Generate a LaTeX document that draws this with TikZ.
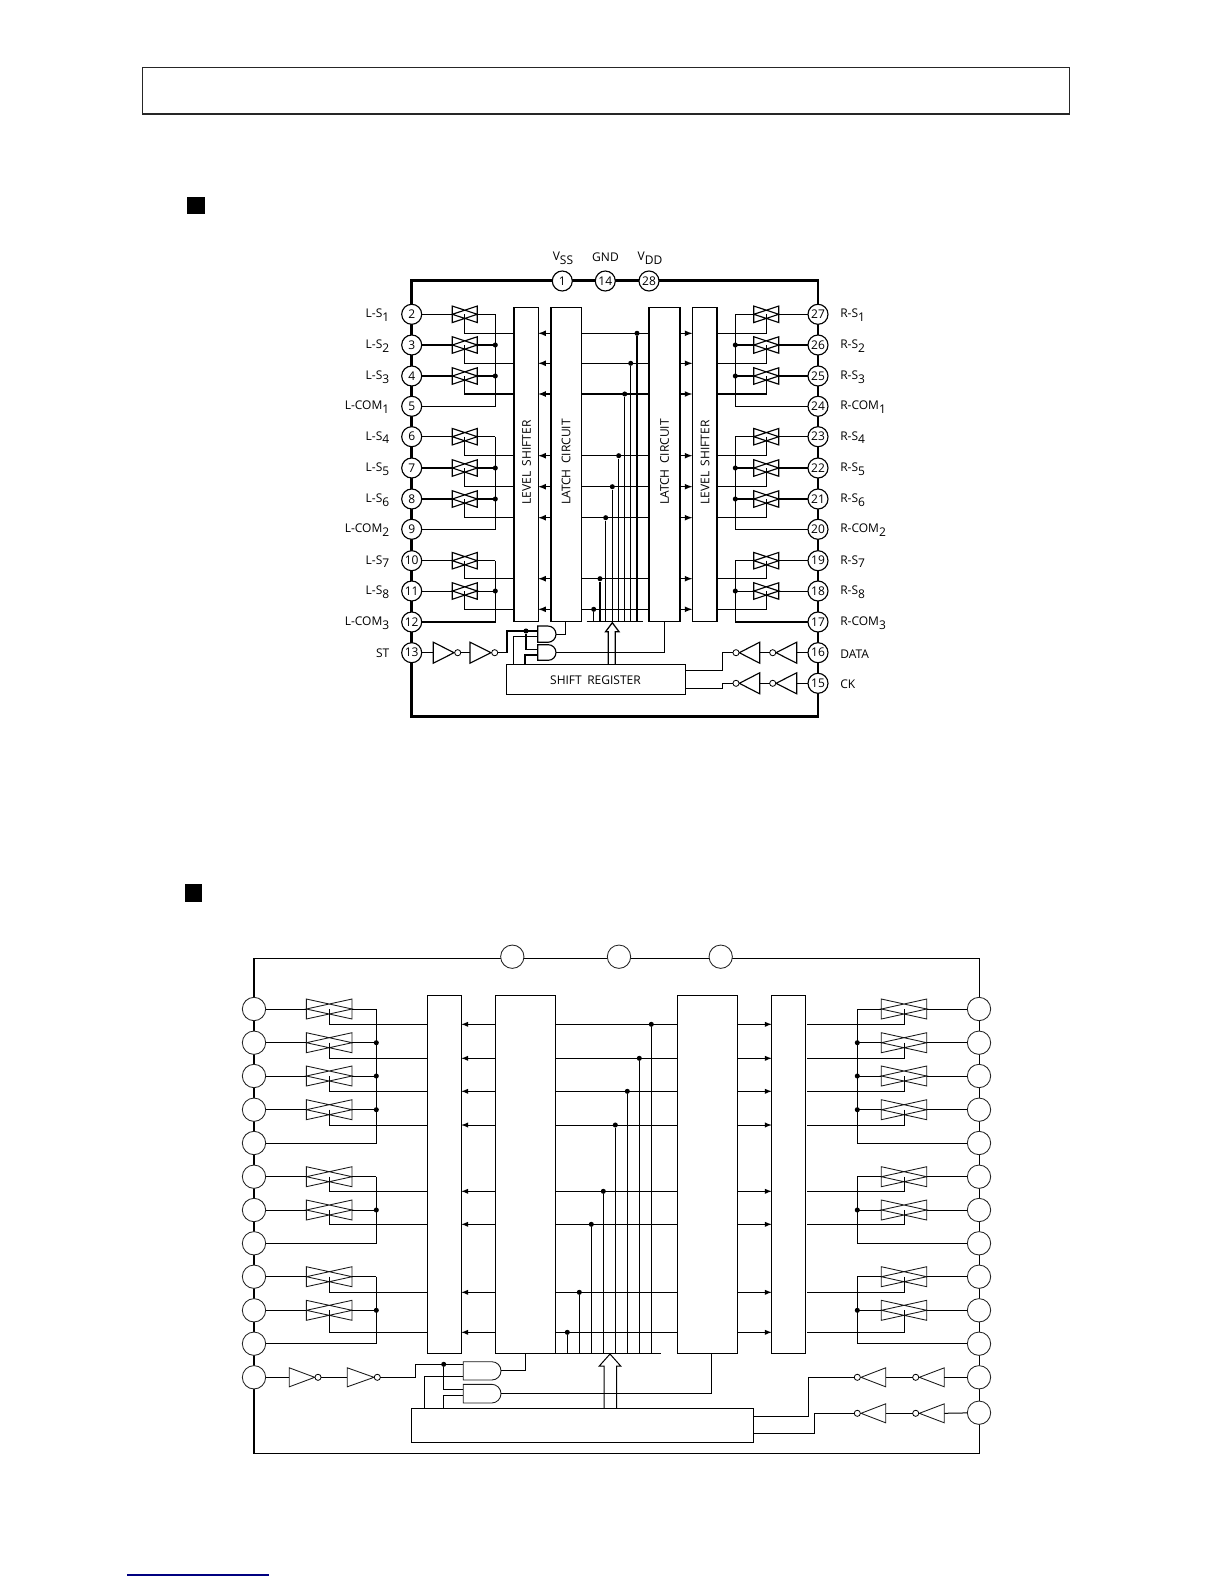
\documentclass[tikz,border=0pt]{standalone}
\usepackage{fontspec}
\setmainfont{Open Sans}
\usetikzlibrary{fit,calc}

\tikzset{
  wire/.style={line width=0.95pt},
  thinwire/.style={line width=0.45pt},
  lowwire/.style={line width=0.75pt},
  gateline/.style={line width=0.85pt,line join=miter},
  lowgate/.style={line width=0.65pt,line join=miter,color=black!90},
  blockbox/.style={draw,fit={#1},inner sep=0pt,outer sep=0pt,line width=0.95pt},
  lowbox/.style={draw,fit={#1},inner sep=0pt,outer sep=0pt,line width=0.75pt},
  pinhi/.style={circle,draw,fill=white,inner sep=0pt,outer sep=0pt,minimum size=15pt,line width=0.85pt,font=\fontsize{9}{10}\selectfont},
  pinlo/.style={circle,draw=black!85,fill=white,inner sep=0pt,outer sep=0pt,minimum size=17.5pt,line width=0.65pt},
  jdot/.style={circle,fill=black,inner sep=0pt,minimum size=3.8pt},
  bubble/.style={circle,draw,fill=white,inner sep=0pt,outer sep=0pt,minimum size=4.6pt,line width=0.6pt},
  tag/.style={inner sep=0pt,font=\fontsize{9}{11}\selectfont},
  boxtext/.style={inner sep=0pt,font=\fontsize{9}{11}\selectfont},
}

% label with a lowered index
\newcommand{\sublbl}[2]{#1\raisebox{-0.6ex}{#2}}

% transmission gate
\newcommand{\xgate}[6][gateline]{%
  \node[inner sep=0pt,outer sep=0pt,minimum width=#5*0.75pt,minimum height=#6*0.75pt] (#2) at (#3,#4) {};
  \draw[#1] (#2.north west) -- (#2.east) -- (#2.south west) -- cycle
    (#2.north east) -- (#2.west) -- (#2.south east) -- cycle;
}

% inverter: name, base x, apex x, bubble x, y, half height
\newcommand{\invgate}[7][gateline]{%
  \coordinate (#2in) at (#3,#6);
  \draw[#1] (#3,#6-#7) -- (#4,#6) -- (#3,#6+#7) -- cycle;
  \node[bubble] (#2out) at (#5,#6) {};
}

% and gate: name, left x, top y, right x, bottom y
\newcommand{\andgate}[6][gateline]{%
  \pgfmathsetmacro{\gr}{(#6-#4)/2}
  \draw[#1] (#5-\gr,#4) -- (#3,#4) -- (#3,#6) -- (#5-\gr,#6)
    arc[start angle=90,end angle=-90,radius=\gr];
  \coordinate (#2) at (#5,#4+\gr);
}

\begin{document}
\begin{tikzpicture}[x=0.75pt,y=-0.75pt]
  \useasboundingbox (0,0) rectangle (1224,1584);

  % page items
  \node[draw=black!85,fit={(142.3,67.3)(1069.3,114)},inner sep=0pt,line width=0.9pt] (titlebox) {};
  \node[fit={(187.3,196.7)(204.7,214.3)},inner sep=0pt,fill=black] (markA) {};
  \node[fit={(185.3,884.3)(201.7,902.3)},inner sep=0pt,fill=black] (markB) {};
  \coordinate (footA) at (127,1575);
  \coordinate (footB) at (268.7,1575);
  \draw[line width=0.8pt,color=blue!50!black] (footA) -- (footB);

  %%% upper drawing
  \draw[line width=2.2pt] (411.7,280.7) rectangle (818,716.7);

  \node[blockbox={(514,307.7)(538.3,621.7)}] (shiftL) {};
  \node[blockbox={(551,307.7)(581.7,621.7)}] (latchL) {};
  \node[blockbox={(649,307.7)(680,621.7)}] (latchR) {};
  \node[blockbox={(692.3,307.7)(717,621.7)}] (shiftR) {};
  \node[blockbox={(506.7,664.3)(685.7,694.7)}] (shiftreg) {};
  \node[boxtext,rotate=90] (shiftLtxt) at (526.5,462.5) {LEVEL\hspace{0.2em} SHIFTER};
  \node[boxtext,rotate=90] (latchLtxt) at (566,462) {LATCH\hspace{0.2em} CIRCUIT};
  \node[boxtext,rotate=90] (latchRtxt) at (664.5,462) {LATCH\hspace{0.2em} CIRCUIT};
  \node[boxtext,rotate=90] (shiftRtxt) at (705,462.5) {LEVEL\hspace{0.2em} SHIFTER};
  \node[boxtext] (regtxt) at (595.5,680.5) {SHIFT\hspace{0.2em} REGISTER};

  \node[pinhi] (t1) at (562.3,281) {1};
  \node[pinhi] (t14) at (605.3,281) {14};
  \node[pinhi] (t28) at (649,281) {28};
  \node[tag] (tagVss) at (563,258.5) {\sublbl{V}{SS}};
  \node[tag] (tagGnd) at (605.5,257) {GND};
  \node[tag] (tagVdd) at (650,258.5) {\sublbl{V}{DD}};

  \foreach \p/\y/\t in {2/314.3/\sublbl{L-S}{1},3/345/\sublbl{L-S}{2},4/376/\sublbl{L-S}{3},
      5/406.3/\sublbl{L-COM}{1},6/436.7/\sublbl{L-S}{4},7/468/\sublbl{L-S}{5},8/499/\sublbl{L-S}{6},
      9/529.3/\sublbl{L-COM}{2},10/560.7/\sublbl{L-S}{7},11/591/\sublbl{L-S}{8},
      12/622/\sublbl{L-COM}{3},13/652.7/ST}
  {
    \node[pinhi] (a\p) at (411.7,\y) {\p};
    \node[tag,anchor=east] (atag\p) at (389.5,\y+1) {\t};
  }
  \foreach \p/\y/\t in {27/314.3/\sublbl{R-S}{1},26/345/\sublbl{R-S}{2},25/376/\sublbl{R-S}{3},
      24/406.3/\sublbl{R-COM}{1},23/436.7/\sublbl{R-S}{4},22/468/\sublbl{R-S}{5},21/499/\sublbl{R-S}{6},
      20/529.3/\sublbl{R-COM}{2},19/560.7/\sublbl{R-S}{7},18/591/\sublbl{R-S}{8},
      17/622/\sublbl{R-COM}{3},16/652.7/DATA,15/683.3/CK}
  {
    \node[pinhi] (b\p) at (818,\y) {\p};
    \node[tag,anchor=west] (btag\p) at (840,\y+1) {\t};
  }

  % switches and control lines
  \foreach \p/\q/\y/\c/\d/\w in {2/27/314.3/333.3/637/wire,3/26/345/363.3/630.7/wire,4/25/376/394/624.7/wire,
      6/23/436.7/455.7/618.7/wire,7/22/468/486.7/612.3/wire,8/21/499/517.7/605.7/wire,
      10/19/560.7/578.7/600/wire,11/18/591/609.3/593.7/thinwire}
  {
    \xgate{sa\p}{464.8}{\y}{25}{16.5}
    \xgate{sb\q}{766.3}{\y}{25}{16.5}
    \draw[\w] (a\p) -- (sa\p.west);
    \draw[\w] (sa\p.east) -- (495.3,\y);
    \draw[\w] (b\q) -- (sb\q.east);
    \draw[\w] (sb\q.west) -- (735.3,\y);
    \draw[wire] (sa\p.center) |- (shiftL.west |- 0,\c);
    \draw[wire] (sb\q.center) |- (shiftR.east |- 0,\c);
    \draw[wire,-latex] (latchL.west |- 0,\c) -- (shiftL.east |- 0,\c);
    \draw[wire,-latex] (latchR.east |- 0,\c) -- (shiftR.west |- 0,\c);
    \draw[wire] (latchL.east |- 0,\c) -- (latchR.west |- 0,\c);
    \node[jdot] (jn\p) at (\d,\c) {};
    \draw[wire] (jn\p) -- (\d,621.7);
  }
  \draw[wire] (586.7,621.7) -- (643.3,621.7);

  % common lines
  \foreach \f/\e in {2/5,6/9,10/12}
  {
    \draw[wire] (495.3,0 |- a\f) -- (495.3,0 |- a\e) -- (a\e);
  }
  \foreach \f/\e in {27/24,23/20,19/17}
  {
    \draw[wire] (735.3,0 |- b\f) -- (735.3,0 |- b\e) -- (b\e);
  }
  \foreach \p in {3,4,7,8,11} \node[jdot] (ja\p) at (495.3,0 |- a\p) {};
  \foreach \p in {26,25,22,21,18} \node[jdot] (jb\p) at (735.3,0 |- b\p) {};

  % clock side
  \draw[wire] (608.3,664.3) -- (608.3,631.7) -- (605.6,631.7) -- (612.3,622.7) -- (619,631.7) -- (615.3,631.7) -- (615.3,664.3);
  \andgate{gA}{537.7}{626}{556}{642.3}
  \andgate{gB}{537.7}{644.7}{556}{660.3}
  \invgate{ia}{433.3}{454}{457.7}{652.7}{10.5}
  \invgate{ib}{470}{491}{494.7}{652.7}{10.5}
  \draw[wire] (a13) -- (iain);
  \draw[wire] (iaout) -- (ibin);
  \node[jdot] (jgate) at (526,631) {};
  \draw[wire] (ibout) -- (507,652.7) -- (507,631) -- (537.7,631);
  \draw[wire] (jgate) |- (537.7,649.3);
  \draw[wire] (513.3,664.3) |- (537.7,636.7);
  \draw[wire] (525,664.3) |- (537.7,655);
  \draw[wire] (gA) -| (565.7,621.7);
  \draw[wire] (gB) -| (664.3,621.7);

  \invgate{ic}{796.7}{776}{772.7}{652.7}{10.5}
  \invgate{id}{759.7}{739.3}{736}{652.7}{10.5}
  \invgate{ie}{796.7}{776}{772.7}{683.3}{10.5}
  \invgate{if}{759.7}{739.3}{736}{683.3}{10.5}
  \draw[wire] (b16) -- (icin);
  \draw[wire] (icout) -- (idin);
  \draw[wire] (b15) -- (iein);
  \draw[wire] (ieout) -- (ifin);
  \draw[wire] (idout) -- (722.3,652.7) -- (722.3,670.7) -- (685.7,670.7);
  \draw[wire] (ifout) -- (722.3,683.3) -- (722.3,688.3) -- (685.7,688.3);

  %%% lower drawing
  \draw[line width=0.85pt] (254,958.3) rectangle (979.7,1453.3);
  \draw[line width=1.5pt] (254,958.3) -- (254,1453.3);

  \node[lowbox={(427.7,995.3)(461.3,1353.3)}] (lowshiftL) {};
  \node[lowbox={(495.3,995.3)(555.3,1353.3)}] (lowlatchL) {};
  \node[lowbox={(677.3,995.3)(737.7,1353.3)}] (lowlatchR) {};
  \node[lowbox={(771.7,995.3)(805.7,1353.3)}] (lowshiftR) {};
  \node[lowbox={(411.3,1408.3)(753.7,1442.3)}] (lowreg) {};

  \node[pinlo] (u1) at (512.3,956.7) {};
  \node[pinlo] (u2) at (619,956.7) {};
  \node[pinlo] (u3) at (720.7,956.7) {};

  \foreach \p/\y in {1/1009,2/1042.7,3/1076,4/1109.7,5/1143,6/1176.7,7/1210,8/1243.3,
      9/1276.7,10/1310.3,11/1343.7,12/1377.3}
  {
    \node[pinlo] (c\p) at (254,\y) {};
    \node[pinlo] (d\p) at (979,\y) {};
  }
  \node[pinlo] (d13) at (979,1412.7) {};

  \foreach \p/\y/\c/\d in {1/1009/1024.3/651.3,2/1042.7/1058.3/639.3,3/1076/1091.3/627.3,4/1109.7/1125/615.3,
      6/1176.7/1191.3/603.3,7/1210/1224.3/591.3,9/1276.7/1292.3/579.3,10/1310.3/1332.3/567.3}
  {
    \xgate[lowgate]{lsa\p}{329.2}{\y}{45.7}{20}
    \xgate[lowgate]{lsb\p}{904}{\y}{45.4}{20}
    \draw[lowwire] (c\p) -- (lsa\p.west);
    \draw[lowwire] (lsa\p.east) -- (376.3,\y);
    \draw[lowwire] (d\p) -- (lsb\p.east);
    \draw[lowwire] (lsb\p.west) -- (857.3,\y);
    \draw[lowwire] (lsa\p.center) |- (lowshiftL.west |- 0,\c);
    \draw[lowwire] (lsb\p.center) |- (807,\c);
    \draw[lowwire,-latex] (lowlatchL.west |- 0,\c) -- (lowshiftL.east |- 0,\c);
    \draw[lowwire,-latex] (lowlatchR.east |- 0,\c) -- (lowshiftR.west |- 0,\c);
    \draw[lowwire] (lowlatchL.east |- 0,\c) -- (lowlatchR.west |- 0,\c);
    \node[jdot] (ljn\p) at (\d,\c) {};
    \draw[lowwire] (ljn\p) -- (\d,1353.3);
  }
  \draw[lowwire] (555.3,1353.3) -- (660.7,1353.3);

  % common lines
  \foreach \f/\e in {1/5,6/8,9/11}
  {
    \draw[lowwire] (376.3,0 |- c\f) -- (376.3,0 |- c\e) -- (c\e);
    \draw[lowwire] (857.3,0 |- d\f) -- (857.3,0 |- d\e) -- (d\e);
  }
  \foreach \p in {2,3,4,7,10}
  {
    \node[jdot] (lja\p) at (376.3,0 |- c\p) {};
    \node[jdot] (ljb\p) at (857.3,0 |- d\p) {};
  }

  % clock side
  \draw[lowwire] (604,1408.3) -- (604,1366) -- (599.3,1366) -- (610,1354) -- (620.7,1366) -- (616.7,1366) -- (616.7,1408.3);
  \andgate[lowgate]{lgA}{463.3}{1361.7}{501}{1380}
  \andgate[lowgate]{lgB}{463.3}{1384.3}{501}{1403}
  \invgate[lowgate]{la}{289.3}{314.7}{318}{1377.3}{9.5}
  \invgate[lowgate]{lb}{347.3}{374}{377.3}{1377.3}{9.5}
  \draw[lowwire] (c12) -- (lain);
  \draw[lowwire] (laout) -- (lbin);
  \node[jdot] (ljgate) at (443.7,1364.3) {};
  \draw[lowwire] (lbout) -- (415.3,1377.3) -- (415.3,1364.3) -- (463.3,1364.3);
  \draw[lowwire] (ljgate) |- (463.3,1389.7);
  \draw[lowwire] (424.3,1408.3) |- (463.3,1376.3);
  \draw[lowwire] (443.3,1408.3) |- (463.3,1395.7);
  \draw[lowwire] (lgA) -| (525.7,1353.3);
  \draw[lowwire] (lgB) -| (711.3,1353.3);

  \invgate[lowgate]{lc}{944.3}{919.3}{915.7}{1377.3}{9.5}
  \invgate[lowgate]{ld}{885.7}{861}{857.3}{1377.3}{9.5}
  \invgate[lowgate]{le}{944.3}{919.3}{915.7}{1413.3}{9.5}
  \invgate[lowgate]{lf}{885.7}{861}{857.3}{1413.3}{9.5}
  \draw[lowwire] (d12) -- (lcin);
  \draw[lowwire] (lcout) -- (ldin);
  \draw[lowwire] (d13) -- (lein);
  \draw[lowwire] (leout) -- (lfin);
  \draw[lowwire] (ldout) -- (808.3,1377.3) -- (808.3,1416) -- (753.7,1416);
  \draw[lowwire] (lfout) -- (814.3,1413.3) -- (814.3,1433.3) -- (753.7,1433.3);
\end{tikzpicture}
\end{document}
